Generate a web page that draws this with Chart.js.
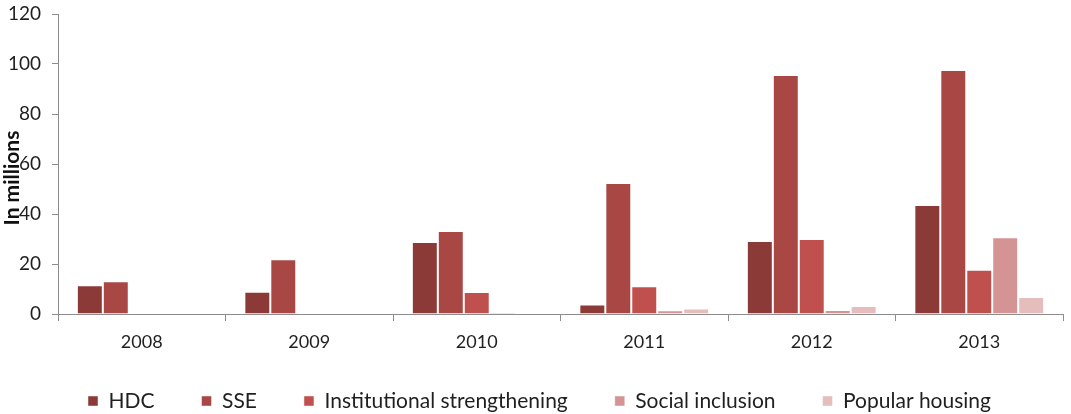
<!DOCTYPE html>
<html>
<head>
<meta charset="utf-8">
<script src="https://cdn.jsdelivr.net/npm/chart.js@4.4.1/dist/chart.umd.min.js"></script>
<style>
  html, body { margin: 0; padding: 0; background: #fff; }
  #wrap { width: 1071px; height: 414px; position: relative; }
</style>
</head>
<body>
<div id="wrap"><canvas id="funding"></canvas></div>
<script>
// Yearly funding by programme, in millions
const years = ['2008', '2009', '2010', '2011', '2012', '2013'];
const hdc = [11.5, 8.9, 28.8, 3.8, 29.2, 43.6];
const sse = [13.1, 21.9, 33.2, 52.4, 95.6, 97.6];
const institutional = [0, 0, 8.8, 11.1, 30.0, 17.7];
const socialInclusion = [0, 0, 0.6, 1.5, 1.6, 30.7];
const popularHousing = [0, 0, 0, 2.2, 3.2, 6.8];
const yTicks = [0, 20, 40, 60, 80, 100, 120];

const FONT = 'Lato, "Liberation Sans", sans-serif';
const textColor = '#1f1f1f';
const axisColor = '#8c8c8c';

function series(label, data, color) {
  return {
    label,
    data,
    backgroundColor: color,
    borderColor: 'rgba(255,255,255,0.45)',
    borderWidth: 1,
    barPercentage: 1.0,
    categoryPercentage: 0.775,
  };
}

// Rotated axis title sitting over the tick labels
const axisTitle = {
  id: 'axisTitle',
  afterDraw(chart) {
    const ctx = chart.ctx;
    ctx.save();
    ctx.translate(12, 178);
    ctx.rotate(-Math.PI / 2);
    ctx.font = 'bold 21px ' + FONT;
    ctx.fillStyle = '#111';
    ctx.textAlign = 'center';
    ctx.textBaseline = 'middle';
    ctx.fillText('In millions', 0, 0);
    ctx.restore();
  }
};

// Pull the legend up a little and nudge it right, closer to the axis labels
const legendNudge = {
  id: 'legendNudge',
  afterLayout(chart) {
    const lg = chart.legend;
    if (!lg) return;
    lg.top -= 9.5;
    lg.left += 8;
    lg.right += 8;
  }
};

const chart = new Chart(document.getElementById('funding'), {
  type: 'bar',
  data: {
    labels: years,
    datasets: [
      series('HDC', hdc, '#8c3a38'),
      series('SSE', sse, '#a94745'),
      series('Institutional strengthening', institutional, '#c0504e'),
      series('Social inclusion', socialInclusion, '#d49494'),
      series('Popular housing', popularHousing, '#e5bdbd'),
    ]
  },
  options: {
    responsive: true,
    maintainAspectRatio: false,
    animation: false,
    layout: { padding: { top: 14, right: 8, left: 0, bottom: 0 } },
    scales: {
      x: {
        afterFit(scale) { scale.height = 39; },
        grid: {
          display: true,
          offset: true,
          drawOnChartArea: false,
          drawTicks: true,
          tickLength: 7,
          color: axisColor,
        },
        border: { color: axisColor, width: 1 },
        ticks: {
          color: textColor,
          font: { family: FONT, size: 18 },
          padding: 10,
        },
      },
      y: {
        min: 0,
        max: 120,
        afterBuildTicks(scale) {
          scale.ticks = yTicks.map(v => ({ value: v }));
        },
        afterFit(scale) {
          scale.width = 58;
          scale.paddingTop = 0;
          scale.paddingBottom = 0;
        },
        grid: {
          display: true,
          drawOnChartArea: false,
          drawTicks: true,
          tickLength: 6,
          color: axisColor,
        },
        border: { color: axisColor, width: 1 },
        ticks: {
          color: textColor,
          font: { family: FONT, size: 19 },
          padding: 11,
        },
      },
    },
    plugins: {
      legend: {
        position: 'bottom',
        maxHeight: 61,
        labels: {
          color: textColor,
          font: { family: FONT, size: 21 },
          boxWidth: 10,
          boxHeight: 10,
          padding: 47,
        },
      },
      tooltip: { enabled: false },
    },
  },
  plugins: [axisTitle, legendNudge],
});
</script>
</body>
</html>
